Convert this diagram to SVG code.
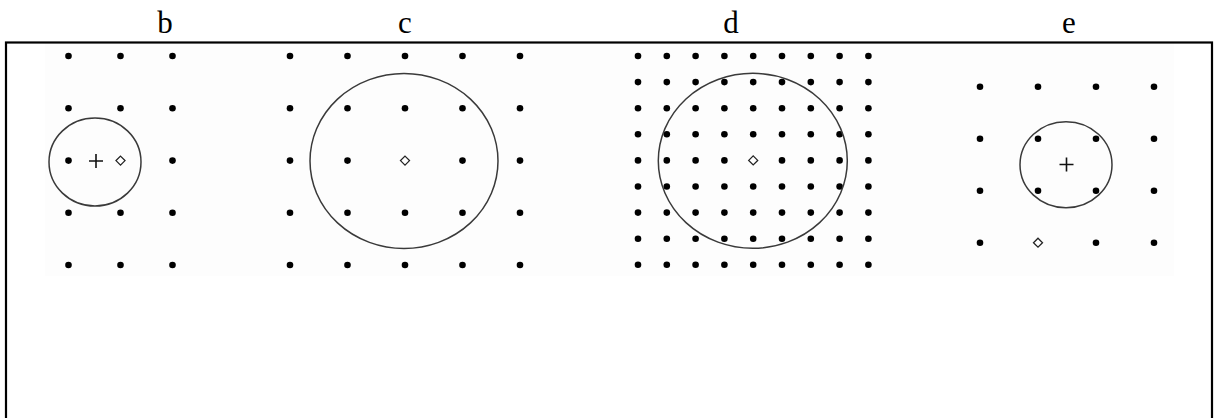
<svg xmlns="http://www.w3.org/2000/svg" xmlns:xlink="http://www.w3.org/1999/xlink" width="1217" height="418" viewBox="0 0 1217 418">
<style>
.lbl{font-family:"Liberation Serif","Times New Roman",serif;font-size:31px;fill:#000;text-anchor:middle}
.ring{fill:none;stroke:#3a3a3a;stroke-width:1.5}
.dot{fill:#000}
.dia{fill:#fff;stroke:#222;stroke-width:1.3}
.plus{stroke:#111;stroke-width:1.6;fill:none}
</style>
<defs>
<circle id="d" r="3.3" class="dot"/>
<path id="m" d="M0,-4.5 L4.5,0 L0,4.5 L-4.5,0 Z" class="dia"/>
<path id="p" d="M-7,0 H7 M0,-7 V7" class="plus"/>
</defs>
<rect x="0" y="0" width="1217" height="418" fill="#fff"/>
<rect x="45" y="43" width="1129" height="233" fill="#fdfdfd"/>
<rect x="6" y="42.5" width="1206" height="420" fill="none" stroke="#000" stroke-width="2.2"/>
<g id="labels">
<text class="lbl" x="165" y="33">b</text>
<text class="lbl" x="405" y="33">c</text>
<text class="lbl" x="731" y="33">d</text>
<text class="lbl" x="1069" y="33">e</text>
</g>
<g id="panel-b">
<use href="#d" x="68.5" y="56"/><use href="#d" x="120.5" y="56"/><use href="#d" x="172.5" y="56"/>
<use href="#d" x="68.5" y="108.3"/><use href="#d" x="120.5" y="108.3"/><use href="#d" x="172.5" y="108.3"/>
<use href="#d" x="68.5" y="160.6"/><use href="#m" x="120.5" y="160.6"/><use href="#d" x="172.5" y="160.6"/>
<use href="#d" x="68.5" y="212.8"/><use href="#d" x="120.5" y="212.8"/><use href="#d" x="172.5" y="212.8"/>
<use href="#d" x="68.5" y="265"/><use href="#d" x="120.5" y="265"/><use href="#d" x="172.5" y="265"/>
<use href="#p" x="96" y="161"/>
<ellipse class="ring" cx="95" cy="162" rx="46" ry="44"/>
</g>
<g id="panel-c">
<use href="#d" x="290" y="56"/><use href="#d" x="347.5" y="56"/><use href="#d" x="405" y="56"/><use href="#d" x="462.5" y="56"/><use href="#d" x="520" y="56"/>
<use href="#d" x="290" y="108.3"/><use href="#d" x="347.5" y="108.3"/><use href="#d" x="405" y="108.3"/><use href="#d" x="462.5" y="108.3"/><use href="#d" x="520" y="108.3"/>
<use href="#d" x="290" y="160.6"/><use href="#d" x="347.5" y="160.6"/><use href="#m" x="405" y="160.6"/><use href="#d" x="462.5" y="160.6"/><use href="#d" x="520" y="160.6"/>
<use href="#d" x="290" y="212.8"/><use href="#d" x="347.5" y="212.8"/><use href="#d" x="405" y="212.8"/><use href="#d" x="462.5" y="212.8"/><use href="#d" x="520" y="212.8"/>
<use href="#d" x="290" y="265"/><use href="#d" x="347.5" y="265"/><use href="#d" x="405" y="265"/><use href="#d" x="462.5" y="265"/><use href="#d" x="520" y="265"/>
<ellipse class="ring" cx="404" cy="161" rx="94" ry="87.5"/>
</g>
<g id="panel-d">
<use href="#d" x="638" y="56"/><use href="#d" x="666.8" y="56"/><use href="#d" x="695.6" y="56"/><use href="#d" x="724.4" y="56"/><use href="#d" x="753.2" y="56"/><use href="#d" x="782" y="56"/><use href="#d" x="810.8" y="56"/><use href="#d" x="839.6" y="56"/><use href="#d" x="868.4" y="56"/>
<use href="#d" x="638" y="82.1"/><use href="#d" x="666.8" y="82.1"/><use href="#d" x="695.6" y="82.1"/><use href="#d" x="724.4" y="82.1"/><use href="#d" x="753.2" y="82.1"/><use href="#d" x="782" y="82.1"/><use href="#d" x="810.8" y="82.1"/><use href="#d" x="839.6" y="82.1"/><use href="#d" x="868.4" y="82.1"/>
<use href="#d" x="638" y="108.2"/><use href="#d" x="666.8" y="108.2"/><use href="#d" x="695.6" y="108.2"/><use href="#d" x="724.4" y="108.2"/><use href="#d" x="753.2" y="108.2"/><use href="#d" x="782" y="108.2"/><use href="#d" x="810.8" y="108.2"/><use href="#d" x="839.6" y="108.2"/><use href="#d" x="868.4" y="108.2"/>
<use href="#d" x="638" y="134.3"/><use href="#d" x="666.8" y="134.3"/><use href="#d" x="695.6" y="134.3"/><use href="#d" x="724.4" y="134.3"/><use href="#d" x="753.2" y="134.3"/><use href="#d" x="782" y="134.3"/><use href="#d" x="810.8" y="134.3"/><use href="#d" x="839.6" y="134.3"/><use href="#d" x="868.4" y="134.3"/>
<use href="#d" x="638" y="160.4"/><use href="#d" x="666.8" y="160.4"/><use href="#d" x="695.6" y="160.4"/><use href="#d" x="724.4" y="160.4"/><use href="#m" x="753.2" y="160.4"/><use href="#d" x="782" y="160.4"/><use href="#d" x="810.8" y="160.4"/><use href="#d" x="839.6" y="160.4"/><use href="#d" x="868.4" y="160.4"/>
<use href="#d" x="638" y="186.5"/><use href="#d" x="666.8" y="186.5"/><use href="#d" x="695.6" y="186.5"/><use href="#d" x="724.4" y="186.5"/><use href="#d" x="753.2" y="186.5"/><use href="#d" x="782" y="186.5"/><use href="#d" x="810.8" y="186.5"/><use href="#d" x="839.6" y="186.5"/><use href="#d" x="868.4" y="186.5"/>
<use href="#d" x="638" y="212.6"/><use href="#d" x="666.8" y="212.6"/><use href="#d" x="695.6" y="212.6"/><use href="#d" x="724.4" y="212.6"/><use href="#d" x="753.2" y="212.6"/><use href="#d" x="782" y="212.6"/><use href="#d" x="810.8" y="212.6"/><use href="#d" x="839.6" y="212.6"/><use href="#d" x="868.4" y="212.6"/>
<use href="#d" x="638" y="238.7"/><use href="#d" x="666.8" y="238.7"/><use href="#d" x="695.6" y="238.7"/><use href="#d" x="724.4" y="238.7"/><use href="#d" x="753.2" y="238.7"/><use href="#d" x="782" y="238.7"/><use href="#d" x="810.8" y="238.7"/><use href="#d" x="839.6" y="238.7"/><use href="#d" x="868.4" y="238.7"/>
<use href="#d" x="638" y="264.8"/><use href="#d" x="666.8" y="264.8"/><use href="#d" x="695.6" y="264.8"/><use href="#d" x="724.4" y="264.8"/><use href="#d" x="753.2" y="264.8"/><use href="#d" x="782" y="264.8"/><use href="#d" x="810.8" y="264.8"/><use href="#d" x="839.6" y="264.8"/><use href="#d" x="868.4" y="264.8"/>
<ellipse class="ring" cx="752.8" cy="160.8" rx="94.5" ry="87.5"/>
</g>
<g id="panel-e">
<use href="#d" x="980" y="86.7"/><use href="#d" x="1038" y="86.7"/><use href="#d" x="1096" y="86.7"/><use href="#d" x="1154" y="86.7"/>
<use href="#d" x="980" y="138.7"/><use href="#d" x="1038" y="138.7"/><use href="#d" x="1096" y="138.7"/><use href="#d" x="1154" y="138.7"/>
<use href="#d" x="980" y="190.7"/><use href="#d" x="1038" y="190.7"/><use href="#d" x="1096" y="190.7"/><use href="#d" x="1154" y="190.7"/>
<use href="#d" x="980" y="242.7"/><use href="#m" x="1038" y="242.7"/><use href="#d" x="1096" y="242.7"/><use href="#d" x="1154" y="242.7"/>
<use href="#p" x="1066.5" y="164.5"/>
<ellipse class="ring" cx="1066" cy="164.7" rx="46" ry="43"/>
</g>
<g id="connectors"/>
</svg>
